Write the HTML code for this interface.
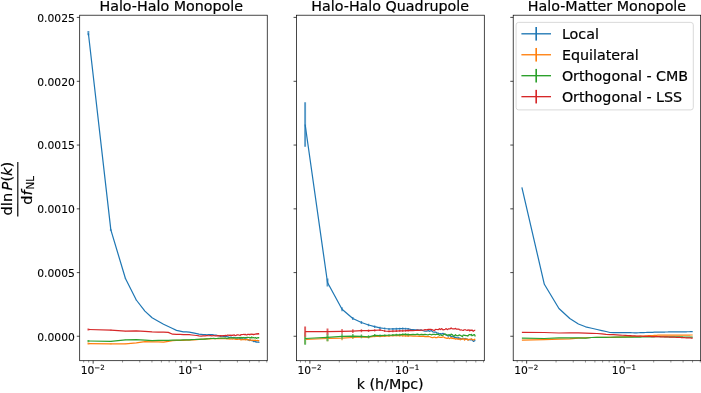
<!DOCTYPE html>
<html lang="en"><head><meta charset="utf-8"><title>Halo power spectrum response</title>
<style>html,body{margin:0;padding:0;background:#fff}body{width:701px;height:393px;overflow:hidden}svg{display:block}</style>
</head><body>
<svg width="701" height="393" viewBox="0 0 701 393" font-family="'DejaVu Sans','Liberation Sans',sans-serif">
<rect width="701" height="393" fill="#fff"/>
<style>text{stroke:#000;stroke-width:0.2px;stroke-linejoin:round}.t{stroke-width:0.1px}</style>
<g>
<path d="M88.38 31.1V35.3M110.84 229.17V230.63" fill="none" stroke="#5799c7" stroke-width="1.9"/>
<path d="M125.44 278.13V278.87M136.29 299.78V300.22" fill="none" stroke="#5799c7" stroke-width="1.45"/>
<polyline points="88.38,33.2 110.84,229.9 125.44,278.5 136.29,300 144.91,311.1 152.08,317.8 158.21,321.22 163.56,324.2 168.31,326.48 172.59,328.54 176.47,330.4 180.03,331.13 183.31,331.8 186.35,331.97 189.19,332.1 191.86,332.62 194.36,333.11 196.73,333.54 198.97,334.03 201.1,334.29 203.12,334.62 205.06,334.66 206.9,334.78 208.68,334.66 210.38,334.52 212.01,334.52 213.59,334.93 215.11,335.08 216.57,335.23 217.99,335.53 219.36,335.89 220.69,336.31 221.98,336 223.23,336.29 224.44,336.45 225.62,336.28 226.77,336.7 227.89,336.81 228.98,337.4 230.04,337.25 231.08,337.03 232.09,337.69 233.07,337.57 234.04,337.34 234.98,337.74 235.91,337.85 236.81,337.9 237.7,338.25 238.56,337.79 239.41,338.4 240.24,338.84 241.06,338.9 241.86,339.08 242.65,339.18 243.42,339.38 244.18,338.83 244.92,339.42 245.66,338.84 246.38,339.25 247.08,339.02 247.78,339.93 248.46,340.16 249.14,339.94 249.8,340.59 250.45,340.14 251.1,340.5 251.73,340.65 252.36,340.5 252.97,341.02 253.58,341.54 254.18,340.94 254.76,341.56 255.35,341.44 255.92,342.06 256.49,341.87 257.04,342.05 257.6,342.18 258.14,342.21 258.68,341.92 259.21,342.75" fill="none" stroke="#1f77b4" stroke-width="1.22" stroke-linejoin="round"/>
<path d="M88.38 342.6V344.6M110.84 343.45V344.15" fill="none" stroke="#ff9f4a" stroke-width="1.9"/>
<path d="M125.44 343.63V343.97" fill="none" stroke="#ff9f4a" stroke-width="1.45"/>
<polyline points="88.38,343.6 110.84,343.8 125.44,343.8 136.29,342.8 144.91,341.6 152.08,341.79 158.21,341.96 163.56,342.1 168.31,341.31 172.59,340.6 176.47,340.48 180.03,340.38 183.31,340.28 186.35,340.19 189.19,340.09 191.86,339.92 194.36,339.78 196.73,339.57 198.97,339.44 201.1,339.44 203.12,339.24 205.06,338.96 206.9,338.93 208.68,338.87 210.38,338.83 212.01,338.62 213.59,338.54 215.11,338.51 216.57,338.69 217.99,338.64 219.36,338.52 220.69,338.57 221.98,338.53 223.23,338.73 224.44,338.47 225.62,338.75 226.77,338.89 227.89,338.88 228.98,338.66 230.04,339.2 231.08,338.79 232.09,339.1 233.07,338.86 234.04,338.67 234.98,339.21 235.91,339.27 236.81,339.23 237.7,339.37 238.56,339.18 239.41,339.2 240.24,339.39 241.06,339.95 241.86,339.72 242.65,339.43 243.42,339.74 244.18,339.52 244.92,339.57 245.66,339.94 246.38,339.63 247.08,339.38 247.78,339.63 248.46,339.92 249.14,339.98 249.8,340.31 250.45,339.87 251.1,340.28 251.73,340.25 252.36,340.15 252.97,340.45 253.58,340.41 254.18,340.11 254.76,340.64 255.35,340.11 255.92,340.47 256.49,340.5 257.04,340.65 257.6,340.4 258.14,340.61 258.68,340.63 259.21,340.95" fill="none" stroke="#ff7f0e" stroke-width="1.22" stroke-linejoin="round"/>
<path d="M88.38 340V342M110.84 341.05V341.75" fill="none" stroke="#61b861" stroke-width="1.9"/>
<path d="M125.44 339.73V340.07" fill="none" stroke="#61b861" stroke-width="1.45"/>
<polyline points="88.38,341 110.84,341.4 125.44,339.9 136.29,339.6 144.91,340.15 152.08,340.6 158.21,340.48 163.56,340.38 168.31,340.28 172.59,340.2 176.47,340.11 180.03,340.02 183.31,339.94 186.35,339.86 189.19,339.8 191.86,339.62 194.36,339.49 196.73,339.4 198.97,339.34 201.1,339.21 203.12,339.18 205.06,339.02 206.9,338.83 208.68,338.76 210.38,338.48 212.01,338.5 213.59,338.42 215.11,338.52 216.57,338.51 217.99,338.3 219.36,338.23 220.69,338.03 221.98,338.2 223.23,338.22 224.44,338.21 225.62,337.94 226.77,338.44 227.89,338.25 228.98,337.94 230.04,337.8 231.08,337.81 232.09,337.88 233.07,337.8 234.04,337.89 234.98,337.93 235.91,338.04 236.81,337.97 237.7,337.64 238.56,337.75 239.41,337.54 240.24,337.48 241.06,338.09 241.86,337.48 242.65,338.08 243.42,337.48 244.18,337.62 244.92,337.81 245.66,337.53 246.38,337.61 247.08,337.44 247.78,337.4 248.46,337.49 249.14,337.39 249.8,337.98 250.45,337.54 251.1,338.03 251.73,336.94 252.36,337.64 252.97,337.79 253.58,337.59 254.18,337.95 254.76,337.85 255.35,337.64 255.92,337.83 256.49,338.44 257.04,337.81 257.6,337.83 258.14,337.66 258.68,337.82 259.21,337.48" fill="none" stroke="#2ca02c" stroke-width="1.22" stroke-linejoin="round"/>
<path d="M88.38 328.5V330.5M110.84 329.85V330.55" fill="none" stroke="#e05d5e" stroke-width="1.9"/>
<path d="M125.44 330.93V331.27" fill="none" stroke="#e05d5e" stroke-width="1.45"/>
<polyline points="88.38,329.5 110.84,330.2 125.44,331.1 136.29,330.8 144.91,331.35 152.08,331.8 158.21,332.03 163.56,332.22 168.31,332.4 172.59,334.2 176.47,334.32 180.03,334.42 183.31,334.52 186.35,334.62 189.19,334.68 191.86,334.99 194.36,335.24 196.73,335.5 198.97,335.9 201.1,336.04 203.12,335.91 205.06,335.93 206.9,335.73 208.68,335.75 210.38,335.64 212.01,335.82 213.59,335.52 215.11,335.82 216.57,335.78 217.99,335.64 219.36,335.9 220.69,335.54 221.98,335.89 223.23,335.66 224.44,335.64 225.62,335.47 226.77,335.59 227.89,334.97 228.98,335.33 230.04,335.12 231.08,335.28 232.09,335.16 233.07,335.28 234.04,334.87 234.98,335.5 235.91,335.58 236.81,334.92 237.7,334.93 238.56,334.98 239.41,335.19 240.24,335.32 241.06,334.51 241.86,334.63 242.65,334.49 243.42,334.45 244.18,334.29 244.92,334.77 245.66,334.36 246.38,335 247.08,334.83 247.78,334.31 248.46,334.27 249.14,334.35 249.8,334.82 250.45,334.22 251.1,334.03 251.73,334.36 252.36,334.43 252.97,334.14 253.58,334.68 254.18,334.31 254.76,334.33 255.35,333.98 255.92,334.15 256.49,334.1 257.04,333.54 257.6,334.15 258.14,333.6 258.68,334.02 259.21,333.63" fill="none" stroke="#d62728" stroke-width="1.22" stroke-linejoin="round"/>
</g>
<g>
<path d="M305.13 102.2V146.8M327.5 278.5V286.5" fill="none" stroke="#5799c7" stroke-width="1.9"/>
<path d="M342.04 307.3V311.3M352.84 316.9V320.1M361.43 321.1V323.9M368.57 323.7V326.3M374.67 325.5V327.9M380 326.7V328.9M384.74 327.45V329.55M388.99 328V330M392.86 327.9V329.9M396.4 327.77V329.77M399.67 327.65V329.65M402.7 327.61V329.61M405.53 327.75V329.75M408.18 327.88V329.88" fill="none" stroke="#5799c7" stroke-width="1.45"/>
<polyline points="305.13,124.5 327.5,282.5 342.04,309.3 352.84,318.5 361.43,322.5 368.57,325 374.67,326.7 380,327.8 384.74,328.5 388.99,329 392.86,328.9 396.4,328.77 399.67,328.65 402.7,328.61 405.53,328.75 408.18,328.88 410.68,329.29 413.03,329.5 415.26,329.84 417.38,329.86 419.4,330.22 421.33,329.96 423.17,330.76 424.93,331.13 426.63,331.25 428.26,330.68 429.83,331.34 431.34,330.49 432.8,331.85 434.21,332.07 435.58,332.07 436.9,332.88 438.18,333.11 439.43,333.75 440.63,333.71 441.81,334.04 442.95,333.34 444.07,333.96 445.15,334.53 446.21,335.13 447.24,335.25 448.25,336.18 449.23,335.36 450.19,335.88 451.13,336.34 452.05,336.35 452.95,336.9 453.83,336.64 454.7,337.75 455.54,337.18 456.37,338.03 457.19,337.71 457.98,338.6 458.77,337.49 459.54,338.54 460.29,338.31 461.03,338.72 461.76,339.26 462.48,338.32 463.18,338.35 463.88,338.6 464.56,339.26 465.23,338.4 465.89,339.4 466.54,338.87 467.18,339.04 467.81,339.48 468.43,339.91 469.05,339.55 469.65,339.7 470.25,340 470.83,339.98 471.41,338.99 471.98,340.09 472.55,340.41 473.1,340.95 473.65,341.46 474.19,340.92 474.73,340.74 475.26,340.27" fill="none" stroke="#1f77b4" stroke-width="1.22" stroke-linejoin="round"/>
<path d="M305.13 335V344M327.5 335.78V341.22" fill="none" stroke="#ff9f4a" stroke-width="1.9"/>
<path d="M342.04 336.24V340.16M352.84 335.96V339.04M361.43 335.53V338.07M368.57 336.02V338.18M374.67 335.45V337.35M380 335.45V337.35M384.74 335.16V337.06M388.99 334.9V336.8M392.86 334.67V336.57M396.4 334.44V336.34M399.67 334.64V336.54M402.7 334.81V336.71M405.53 334.88V336.78M408.18 335.01V336.91" fill="none" stroke="#ff9f4a" stroke-width="1.45"/>
<polyline points="305.13,339.5 327.5,338.5 342.04,338.2 352.84,337.5 361.43,336.8 368.57,337.1 374.67,336.4 380,336.4 384.74,336.11 388.99,335.85 392.86,335.62 396.4,335.39 399.67,335.59 402.7,335.76 405.53,335.83 408.18,335.96 410.68,335.87 413.03,336.03 415.26,335.99 417.38,336.11 419.4,336.47 421.33,336.38 423.17,336.11 424.93,336.58 426.63,336.58 428.26,336.47 429.83,336.76 431.34,337.39 432.8,337.68 434.21,337.01 435.58,337.57 436.9,337.69 438.18,336.82 439.43,337.3 440.63,337.33 441.81,337.46 442.95,336.7 444.07,337.29 445.15,337.95 446.21,338.07 447.24,338.45 448.25,337.59 449.23,338.71 450.19,338.28 451.13,337.48 452.05,338.55 452.95,338.16 453.83,338.65 454.7,338.48 455.54,339.17 456.37,338.84 457.19,338.7 457.98,339.36 458.77,339.13 459.54,338.92 460.29,339.77 461.03,339.04 461.76,338.96 462.48,339.03 463.18,338.64 463.88,339.08 464.56,340.19 465.23,338.96 465.89,339.4 466.54,338.92 467.18,339.16 467.81,340.14 468.43,339.89 469.05,339.23 469.65,339.53 470.25,339.17 470.83,339.21 471.41,339.17 471.98,339.2 472.55,339.77 473.1,339.91 473.65,339.88 474.19,339.61 474.73,339.09 475.26,339.67" fill="none" stroke="#ff7f0e" stroke-width="1.22" stroke-linejoin="round"/>
<path d="M305.13 332.2V344.8M327.5 333.59V341.21" fill="none" stroke="#61b861" stroke-width="1.9"/>
<path d="M342.04 333.65V339.15M352.84 333.95V338.25M361.43 334.62V338.18M368.57 335.29V338.31M374.67 334.08V336.72M380 334.53V336.87M384.74 334.42V336.52M388.99 334.21V336.31M392.86 334.02V336.12M396.4 333.83V335.93M399.67 333.72V335.82M402.7 333.43V335.53M405.53 333.35V335.45M408.18 333.6V335.7" fill="none" stroke="#61b861" stroke-width="1.45"/>
<polyline points="305.13,338.5 327.5,337.4 342.04,336.4 352.84,336.1 361.43,336.4 368.57,336.8 374.67,335.4 380,335.7 384.74,335.47 388.99,335.26 392.86,335.07 396.4,334.88 399.67,334.77 402.7,334.48 405.53,334.4 408.18,334.65 410.68,334.54 413.03,334.4 415.26,334.66 417.38,334.1 419.4,334.91 421.33,334.3 423.17,334.58 424.93,334.38 426.63,334.64 428.26,334.8 429.83,334.2 431.34,334.8 432.8,334.43 434.21,334.3 435.58,334.54 436.9,334.21 438.18,334.34 439.43,335.26 440.63,334.73 441.81,335.49 442.95,335.13 444.07,334.35 445.15,333.9 446.21,334.61 447.24,335.18 448.25,335.06 449.23,334.62 450.19,335.68 451.13,334.16 452.05,334.46 452.95,335.26 453.83,336.45 454.7,335.47 455.54,334.7 456.37,335.62 457.19,335.7 457.98,335.86 458.77,335.13 459.54,334.93 460.29,335.47 461.03,335.63 461.76,336.3 462.48,336.58 463.18,334.99 463.88,335.11 464.56,335.36 465.23,335.26 465.89,335.67 466.54,335.67 467.18,335.55 467.81,336.16 468.43,335.31 469.05,334.81 469.65,334.52 470.25,334.82 470.83,334.81 471.41,334.34 471.98,335.77 472.55,335.5 473.1,335.16 473.65,334.9 474.19,334.51 474.73,334.88 475.26,336.44" fill="none" stroke="#2ca02c" stroke-width="1.22" stroke-linejoin="round"/>
<path d="M305.13 326.6V336.8M327.5 328.53V334.87" fill="none" stroke="#e05d5e" stroke-width="1.9"/>
<path d="M342.04 329.08V333.72M352.84 329.25V332.95M361.43 329.16V332.24M368.57 329.38V332.02M374.67 329.17V331.49M380 328.97V331.03M384.74 330.05V331.95M388.99 330.45V332.35M392.86 330.25V332.15M396.4 330.07V331.97M399.67 329.94V331.84M402.7 329.82V331.72M405.53 329.74V331.64M408.18 329.58V331.48" fill="none" stroke="#e05d5e" stroke-width="1.45"/>
<polyline points="305.13,331.7 327.5,331.7 342.04,331.4 352.84,331.1 361.43,330.7 368.57,330.7 374.67,330.33 380,330 384.74,331 388.99,331.4 392.86,331.2 396.4,331.02 399.67,330.89 402.7,330.77 405.53,330.69 408.18,330.53 410.68,330.42 413.03,330.52 415.26,330.5 417.38,330.22 419.4,330.28 421.33,330.21 423.17,330.25 424.93,329.68 426.63,329.94 428.26,329.38 429.83,329.47 431.34,329.48 432.8,329.94 434.21,330.54 435.58,329.45 436.9,329.5 438.18,329.67 439.43,328.66 440.63,329.52 441.81,328.59 442.95,329.84 444.07,329.72 445.15,329.26 446.21,328.64 447.24,329.67 448.25,328.97 449.23,328.83 450.19,328.97 451.13,327.86 452.05,328.76 452.95,328.95 453.83,328.77 454.7,328.8 455.54,328.42 456.37,329.26 457.19,329.17 457.98,329.19 458.77,329.04 459.54,329.78 460.29,330.06 461.03,329.74 461.76,330.03 462.48,330.28 463.18,330.46 463.88,329.9 464.56,329.76 465.23,329.72 465.89,329.97 466.54,330.27 467.18,330.49 467.81,329.93 468.43,330.24 469.05,329.78 469.65,330.85 470.25,330.15 470.83,330.54 471.41,330.1 471.98,330.34 472.55,330.21 473.1,331.33 473.65,330.77 474.19,330.58 474.73,330.27 475.26,330.43" fill="none" stroke="#d62728" stroke-width="1.22" stroke-linejoin="round"/>
</g>
<g>
<polyline points="521.88,187.4 544.34,284.3 558.94,308.5 569.79,318.5 578.41,324 585.58,326.8 591.71,328.24 597.06,329.5 601.81,330.55 606.09,331.5 609.97,332.5 613.53,332.54 616.81,332.58 619.85,332.61 622.69,332.64 625.36,332.67 627.86,332.7 630.23,332.73 632.47,332.75 634.6,332.78 636.62,332.8 638.56,332.74 640.4,332.68 642.18,332.62 643.88,332.56 645.51,332.51 647.09,332.46 648.61,332.41 650.07,332.36 651.49,332.31 652.86,332.27 654.19,332.22 655.48,332.18 656.73,332.14 657.94,332.1 659.12,332.09 660.27,332.07 661.39,332.06 662.48,332.05 663.54,332.04 664.58,332.02 665.59,332.01 666.57,332 667.54,331.99 668.48,331.98 669.41,331.97 670.31,331.96 671.2,331.95 672.06,331.94 672.91,331.93 673.74,331.92 674.56,331.91 675.36,331.9 676.15,331.89 676.92,331.88 677.68,331.87 678.42,331.86 679.16,331.86 679.88,331.85 680.58,331.84 681.28,331.83 681.96,331.82 682.64,331.82 683.3,331.81 683.95,331.8 684.6,331.79 685.23,331.79 685.86,331.78 686.47,331.77 687.08,331.76 687.68,331.76 688.26,331.75 688.85,331.74 689.42,331.74 689.99,331.73 690.54,331.72 691.1,331.72 691.64,331.71 692.18,331.71 692.71,331.7" fill="none" stroke="#1f77b4" stroke-width="1.22" stroke-linejoin="round"/>
<polyline points="521.88,340.2 544.34,339.7 558.94,339.2 569.79,338.8 578.41,338.1 585.58,337.78 591.71,337.5 597.06,337.45 601.81,337.41 606.09,337.37 609.97,337.33 613.53,337.3 616.81,337.17 619.85,337.05 622.69,336.94 625.36,336.84 627.86,336.74 630.23,336.65 632.47,336.56 634.6,336.48 636.62,336.4 638.56,336.29 640.4,336.19 642.18,336.09 643.88,335.99 645.51,335.9 647.09,335.81 648.61,335.73 650.07,335.64 651.49,335.56 652.86,335.49 654.19,335.41 655.48,335.34 656.73,335.27 657.94,335.2 659.12,335.19 660.27,335.19 661.39,335.18 662.48,335.17 663.54,335.17 664.58,335.16 665.59,335.16 666.57,335.15 667.54,335.14 668.48,335.14 669.41,335.13 670.31,335.13 671.2,335.12 672.06,335.12 672.91,335.11 673.74,335.11 674.56,335.1 675.36,335.1 676.15,335.1 676.92,335.09 677.68,335.09 678.42,335.08 679.16,335.08 679.88,335.07 680.58,335.07 681.28,335.07 681.96,335.06 682.64,335.06 683.3,335.05 683.95,335.05 684.6,335.05 685.23,335.04 685.86,335.04 686.47,335.04 687.08,335.03 687.68,335.03 688.26,335.03 688.85,335.02 689.42,335.02 689.99,335.02 690.54,335.01 691.1,335.01 691.64,335.01 692.18,335 692.71,335" fill="none" stroke="#ff7f0e" stroke-width="1.22" stroke-linejoin="round"/>
<polyline points="521.88,338.1 544.34,338.5 558.94,337.8 569.79,337.8 578.41,337.8 585.58,338.2 591.71,337.5 597.06,337.43 601.81,337.36 606.09,337.3 609.97,337.25 613.53,337.2 616.81,337.19 619.85,337.17 622.69,337.16 625.36,337.15 627.86,337.14 630.23,337.13 632.47,337.12 634.6,337.11 636.62,337.1 638.56,337.06 640.4,337.03 642.18,337 643.88,336.96 645.51,336.93 647.09,336.9 648.61,336.88 650.07,336.85 651.49,336.82 652.86,336.8 654.19,336.77 655.48,336.75 656.73,336.72 657.94,336.7 659.12,336.71 660.27,336.73 661.39,336.74 662.48,336.75 663.54,336.76 664.58,336.78 665.59,336.79 666.57,336.8 667.54,336.81 668.48,336.82 669.41,336.83 670.31,336.84 671.2,336.85 672.06,336.86 672.91,336.87 673.74,336.88 674.56,336.89 675.36,336.9 676.15,336.91 676.92,336.92 677.68,336.93 678.42,336.94 679.16,336.94 679.88,336.95 680.58,336.96 681.28,336.97 681.96,336.98 682.64,336.98 683.3,336.99 683.95,337 684.6,337.01 685.23,337.01 685.86,337.02 686.47,337.03 687.08,337.04 687.68,337.04 688.26,337.05 688.85,337.06 689.42,337.06 689.99,337.07 690.54,337.08 691.1,337.08 691.64,337.09 692.18,337.09 692.71,337.1" fill="none" stroke="#2ca02c" stroke-width="1.22" stroke-linejoin="round"/>
<polyline points="521.88,332.4 544.34,332.5 558.94,333 569.79,332.89 578.41,332.8 585.58,333.07 591.71,333.3 597.06,333.5 601.81,333.97 606.09,334.4 609.97,334.56 613.53,334.7 616.81,334.9 619.85,335.08 622.69,335.26 625.36,335.42 627.86,335.57 630.23,335.71 632.47,335.85 634.6,335.98 636.62,336.1 638.56,336.15 640.4,336.21 642.18,336.26 643.88,336.3 645.51,336.35 647.09,336.39 648.61,336.44 650.07,336.48 651.49,336.52 652.86,336.56 654.19,336.59 655.48,336.63 656.73,336.67 657.94,336.7 659.12,336.73 660.27,336.77 661.39,336.8 662.48,336.83 663.54,336.86 664.58,336.89 665.59,336.92 666.57,336.94 667.54,336.97 668.48,337 669.41,337.02 670.31,337.05 671.2,337.08 672.06,337.1 672.91,337.14 673.74,337.18 674.56,337.22 675.36,337.26 676.15,337.3 676.92,337.34 677.68,337.37 678.42,337.41 679.16,337.44 679.88,337.48 680.58,337.51 681.28,337.55 681.96,337.58 682.64,337.61 683.3,337.64 683.95,337.68 684.6,337.71 685.23,337.74 685.86,337.77 686.47,337.8 687.08,337.83 687.68,337.86 688.26,337.88 688.85,337.91 689.42,337.94 689.99,337.97 690.54,338 691.1,338.02 691.64,338.05 692.18,338.07 692.71,338.1" fill="none" stroke="#d62728" stroke-width="1.22" stroke-linejoin="round"/>
</g>
<rect x="79.7" y="15.2" width="187.55" height="345.5" fill="none" stroke="#000" stroke-width="0.72"/>
<path d="M79.7 336.25h-2.9M79.7 272.6h-2.9M79.7 208.85h-2.9M79.7 145.05h-2.9M79.7 81.3h-2.9M79.7 17.4h-2.9M93.15 360.7v2.9M190.8 360.7v2.9" stroke="#000" stroke-width="0.72" fill="none"/>
<path d="M83.69 360.7v1.8M88.68 360.7v1.8M122.55 360.7v1.8M139.74 360.7v1.8M151.94 360.7v1.8M161.4 360.7v1.8M169.14 360.7v1.8M175.67 360.7v1.8M181.34 360.7v1.8M186.33 360.7v1.8M220.2 360.7v1.8M237.39 360.7v1.8M249.59 360.7v1.8M259.05 360.7v1.8M266.79 360.7v1.8" stroke="#000" stroke-width="0.5" stroke-opacity="0.85" fill="none"/>
<text transform="rotate(0.02 80.68 373.8)" class="t" x="80.68" y="373.8" font-size="10.75">10<tspan dy="-4.1" font-size="7.1">−2</tspan></text>
<text transform="rotate(0.02 178.33 373.8)" class="t" x="178.33" y="373.8" font-size="10.75">10<tspan dy="-4.1" font-size="7.1">−1</tspan></text>
<rect x="296.45" y="15.2" width="187.85" height="345.5" fill="none" stroke="#000" stroke-width="0.72"/>
<path d="M296.45 336.25h-2.9M296.45 272.6h-2.9M296.45 208.85h-2.9M296.45 145.05h-2.9M296.45 81.3h-2.9M296.45 17.4h-2.9M309.9 360.7v2.9M407.55 360.7v2.9" stroke="#000" stroke-width="0.72" fill="none"/>
<path d="M300.44 360.7v1.8M305.43 360.7v1.8M339.3 360.7v1.8M356.49 360.7v1.8M368.69 360.7v1.8M378.15 360.7v1.8M385.89 360.7v1.8M392.42 360.7v1.8M398.09 360.7v1.8M403.08 360.7v1.8M436.95 360.7v1.8M454.14 360.7v1.8M466.34 360.7v1.8M475.8 360.7v1.8M483.54 360.7v1.8" stroke="#000" stroke-width="0.5" stroke-opacity="0.85" fill="none"/>
<text transform="rotate(0.02 297.43 373.8)" class="t" x="297.43" y="373.8" font-size="10.75">10<tspan dy="-4.1" font-size="7.1">−2</tspan></text>
<text transform="rotate(0.02 395.08 373.8)" class="t" x="395.08" y="373.8" font-size="10.75">10<tspan dy="-4.1" font-size="7.1">−1</tspan></text>
<rect x="513.2" y="15.2" width="187.5" height="345.5" fill="none" stroke="#000" stroke-width="0.72"/>
<path d="M513.2 336.25h-2.9M513.2 272.6h-2.9M513.2 208.85h-2.9M513.2 145.05h-2.9M513.2 81.3h-2.9M513.2 17.4h-2.9M526.65 360.7v2.9M624.3 360.7v2.9" stroke="#000" stroke-width="0.72" fill="none"/>
<path d="M517.19 360.7v1.8M522.18 360.7v1.8M556.05 360.7v1.8M573.24 360.7v1.8M585.44 360.7v1.8M594.9 360.7v1.8M602.64 360.7v1.8M609.17 360.7v1.8M614.84 360.7v1.8M619.83 360.7v1.8M653.7 360.7v1.8M670.89 360.7v1.8M683.09 360.7v1.8M692.55 360.7v1.8M700.29 360.7v1.8" stroke="#000" stroke-width="0.5" stroke-opacity="0.85" fill="none"/>
<text transform="rotate(0.02 514.18 373.8)" class="t" x="514.18" y="373.8" font-size="10.75">10<tspan dy="-4.1" font-size="7.1">−2</tspan></text>
<text transform="rotate(0.02 611.83 373.8)" class="t" x="611.83" y="373.8" font-size="10.75">10<tspan dy="-4.1" font-size="7.1">−1</tspan></text>
<text transform="rotate(0.02 74.9 340.65)" class="t" x="74.9" y="340.65" font-size="10.75" text-anchor="end">0.0000</text>
<text transform="rotate(0.02 74.9 277)" class="t" x="74.9" y="277" font-size="10.75" text-anchor="end">0.0005</text>
<text transform="rotate(0.02 74.9 213.25)" class="t" x="74.9" y="213.25" font-size="10.75" text-anchor="end">0.0010</text>
<text transform="rotate(0.02 74.9 149.45)" class="t" x="74.9" y="149.45" font-size="10.75" text-anchor="end">0.0015</text>
<text transform="rotate(0.02 74.9 85.7)" class="t" x="74.9" y="85.7" font-size="10.75" text-anchor="end">0.0020</text>
<text transform="rotate(0.02 74.9 21.8)" class="t" x="74.9" y="21.8" font-size="10.75" text-anchor="end">0.0025</text>
<text transform="rotate(0.02 171.25 10.6)" x="171.25" y="10.6" font-size="14.27" text-anchor="middle">Halo-Halo Monopole</text>
<text transform="rotate(0.02 390.2 10.6)" x="390.2" y="10.6" font-size="14.27" text-anchor="middle">Halo-Halo Quadrupole</text>
<text transform="rotate(0.02 606.95 10.6)" x="606.95" y="10.6" font-size="14.27" text-anchor="middle">Halo-Matter Monopole</text>
<text transform="rotate(0.02 390.2 389.3)" x="390.2" y="389.3" font-size="14.27" text-anchor="middle">k (h/Mpc)</text>
<g transform="rotate(-89.98)" font-size="14.6">
<text x="-215.4" y="12.3">dln<tspan dx="2.4" font-style="italic">P</tspan>(<tspan font-style="italic">k</tspan>)</text>
<rect x="-216.5" y="17.3" width="54.6" height="1.15" fill="#000"/>
<text x="-204.7" y="32.2">d<tspan font-style="italic">f</tspan><tspan dx="0.8" dy="2.3" font-size="10.22">NL</tspan></text>
</g>
<rect x="516.1" y="22.4" width="177.2" height="87.5" rx="2.5" ry="2.5" fill="#fff" fill-opacity="0.8" stroke="#ccc" stroke-opacity="0.8" stroke-width="0.9"/>
<path d="M521.4 33.8H551" stroke="#1f77b4" stroke-width="1.35" fill="none"/><path d="M536.2 27V40.6" stroke="#1f77b4" stroke-width="1.65" fill="none"/>
<text transform="rotate(0.02 561.9 38.8)" x="561.9" y="38.8" font-size="14.27">Local</text>
<path d="M521.4 54.75H551" stroke="#ff7f0e" stroke-width="1.35" fill="none"/><path d="M536.2 47.95V61.55" stroke="#ff7f0e" stroke-width="1.65" fill="none"/>
<text transform="rotate(0.02 561.9 59.75)" x="561.9" y="59.75" font-size="14.27">Equilateral</text>
<path d="M521.4 75.7H551" stroke="#2ca02c" stroke-width="1.35" fill="none"/><path d="M536.2 68.9V82.5" stroke="#2ca02c" stroke-width="1.65" fill="none"/>
<text transform="rotate(0.02 561.9 80.7)" x="561.9" y="80.7" font-size="14.27">Orthogonal - CMB</text>
<path d="M521.4 96.65H551" stroke="#d62728" stroke-width="1.35" fill="none"/><path d="M536.2 89.85V103.45" stroke="#d62728" stroke-width="1.65" fill="none"/>
<text transform="rotate(0.02 561.9 101.65)" x="561.9" y="101.65" font-size="14.27">Orthogonal - LSS</text>
</svg>
</body></html>
